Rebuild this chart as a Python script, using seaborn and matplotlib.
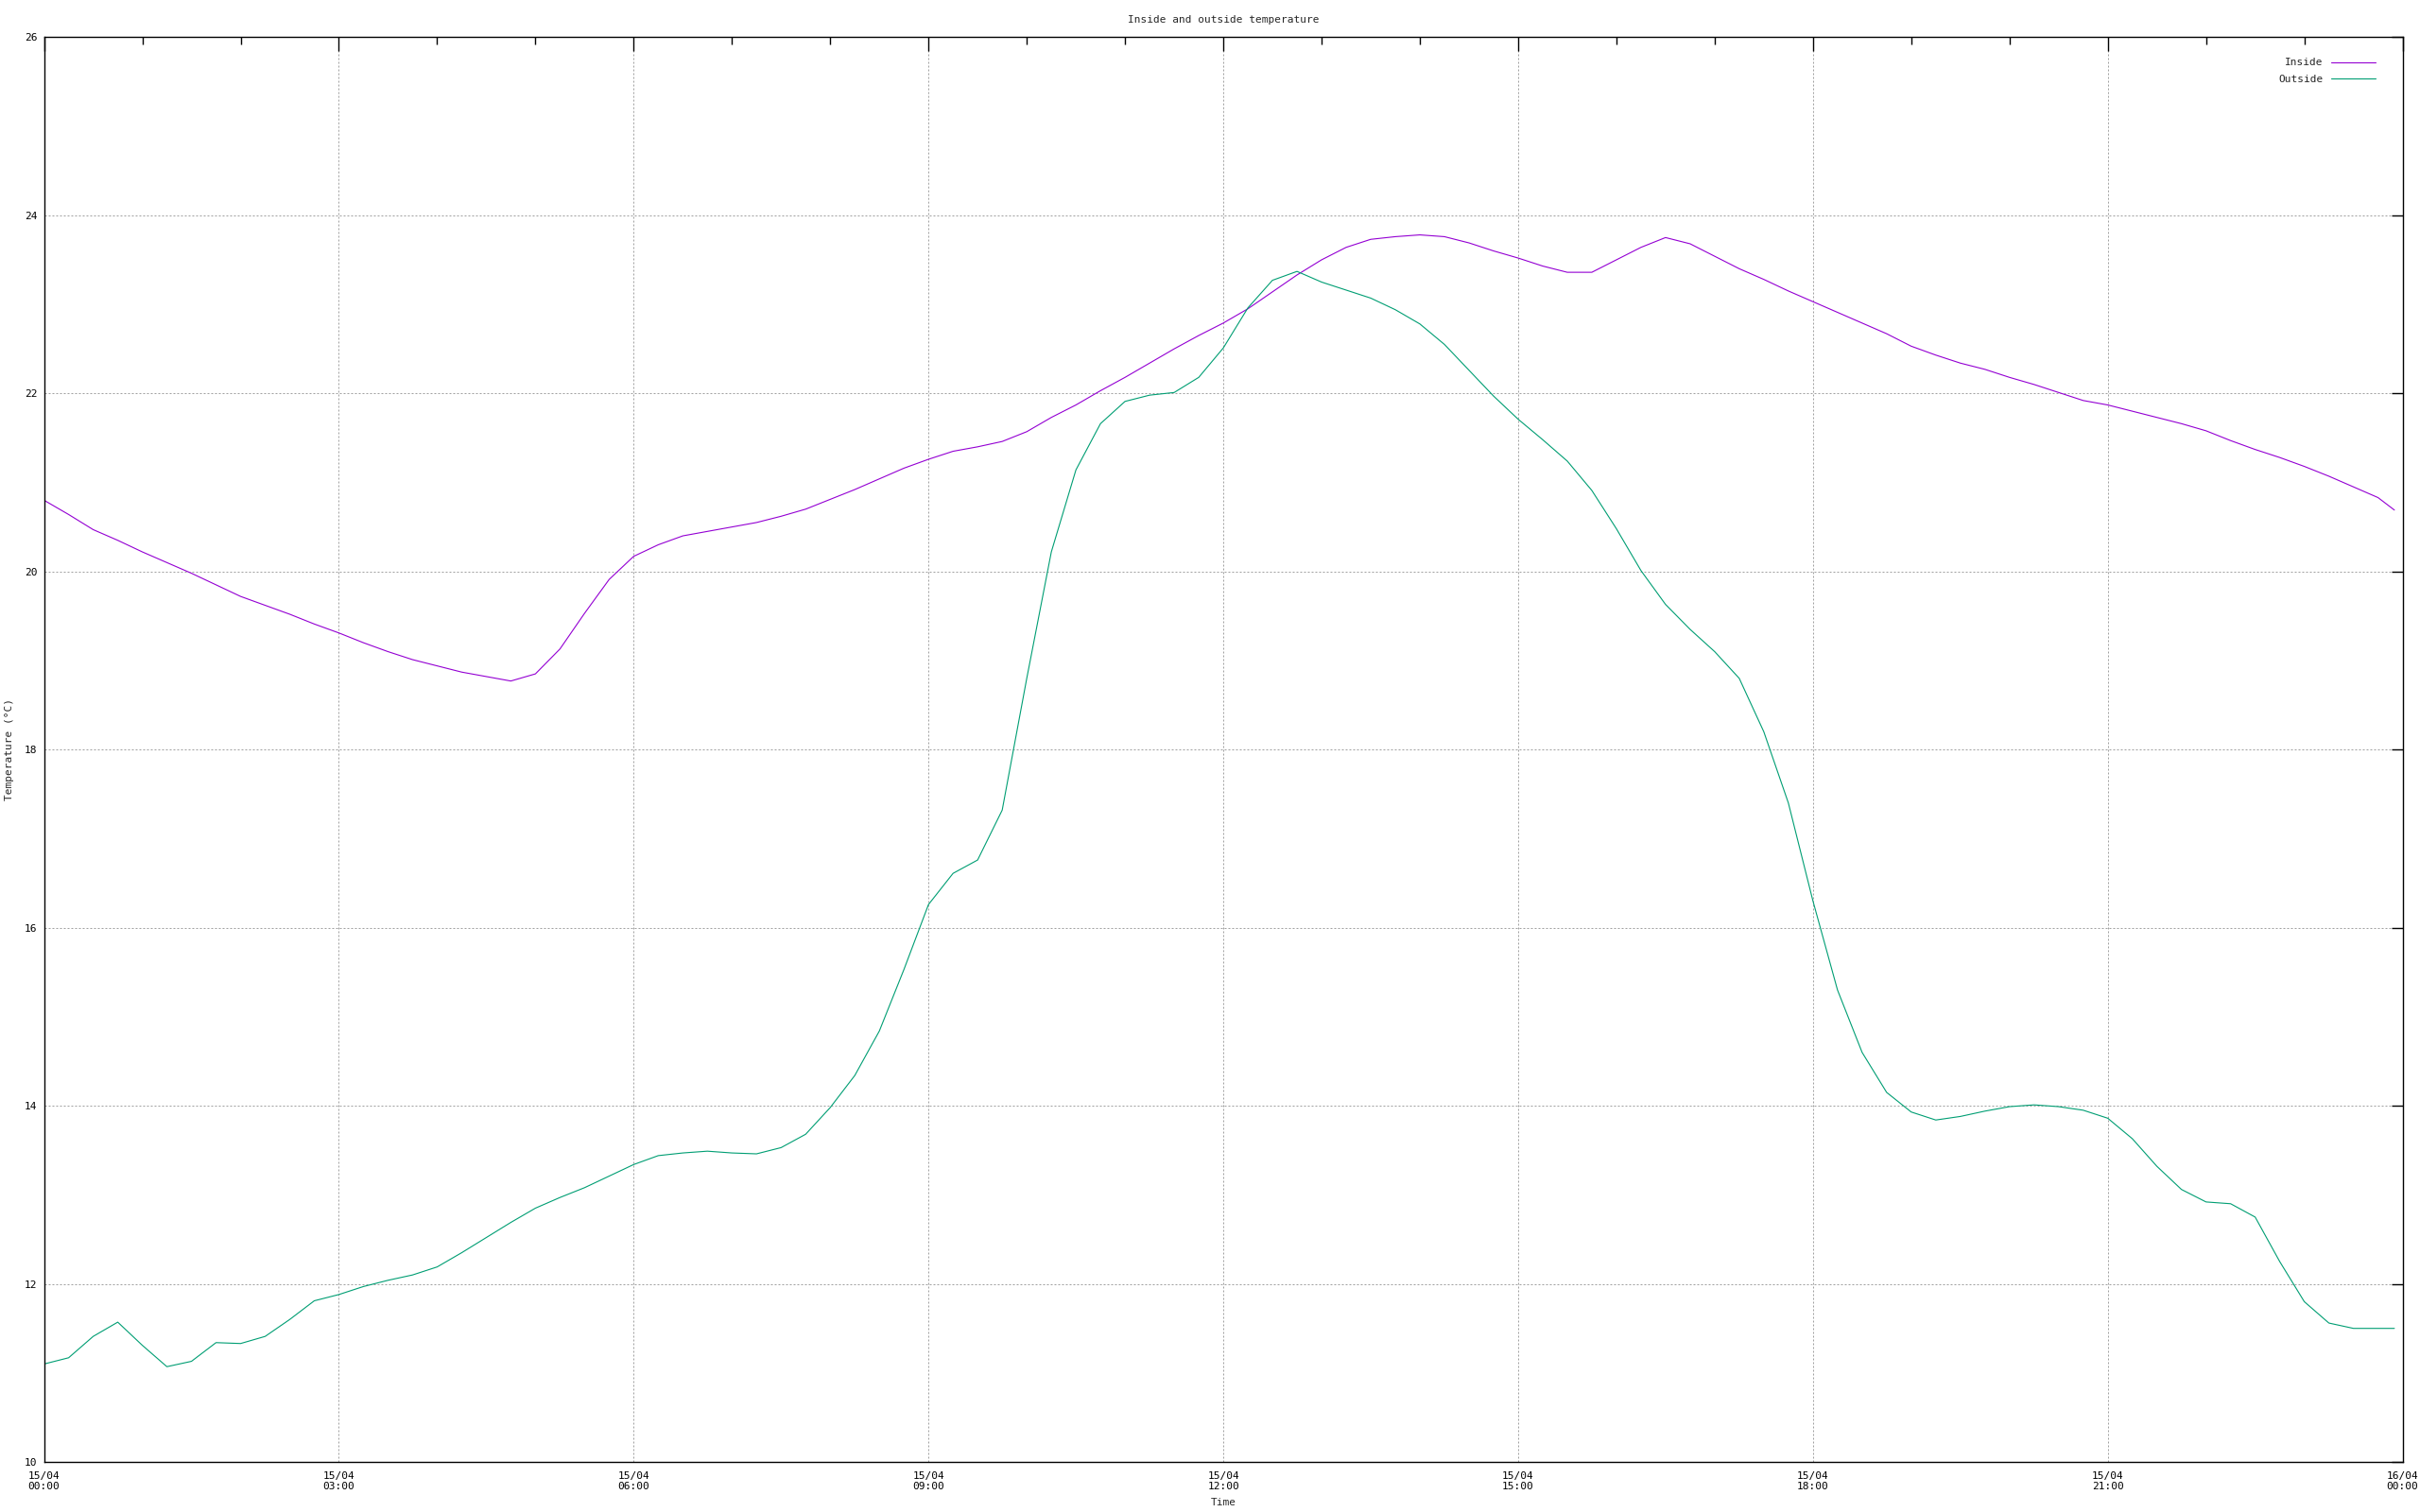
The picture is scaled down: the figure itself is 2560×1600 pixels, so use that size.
import pandas as pd
import matplotlib
matplotlib.use("Agg")
import matplotlib.pyplot as plt
import matplotlib.dates as mdates
import seaborn as sns

# readings every 15 minutes from 15/04 00:00, last one at 23:55
inside = [20.80, 20.64, 20.47, 20.35, 20.22, 20.10, 19.98, 19.85,
          19.72, 19.62, 19.52, 19.41, 19.31, 19.20, 19.10, 19.01,
          18.94, 18.87, 18.82, 18.77, 18.85, 19.13, 19.53, 19.91,
          20.17, 20.30, 20.40, 20.45, 20.50, 20.55, 20.62, 20.70,
          20.81, 20.92, 21.04, 21.16, 21.26, 21.35, 21.40, 21.46,
          21.57, 21.73, 21.87, 22.03, 22.18, 22.34, 22.50, 22.65,
          22.79, 22.95, 23.14, 23.33, 23.50, 23.64, 23.73, 23.76,
          23.78, 23.76, 23.69, 23.60, 23.52, 23.43, 23.36, 23.36,
          23.50, 23.64, 23.75, 23.68, 23.54, 23.40, 23.28, 23.15,
          23.03, 22.91, 22.79, 22.67, 22.53, 22.43, 22.34, 22.27,
          22.18, 22.10, 22.01, 21.92, 21.87, 21.80, 21.73, 21.66,
          21.58, 21.47, 21.37, 21.28, 21.18, 21.07, 20.95, 20.83,
          20.69]
outside = [11.10, 11.17, 11.41, 11.57, 11.31, 11.07, 11.13, 11.34,
           11.33, 11.41, 11.60, 11.81, 11.88, 11.97, 12.04, 12.10,
           12.19, 12.35, 12.52, 12.69, 12.85, 12.97, 13.08, 13.21,
           13.34, 13.44, 13.47, 13.49, 13.47, 13.46, 13.53, 13.68,
           13.98, 14.34, 14.84, 15.53, 16.26, 16.61, 16.76, 17.32,
           18.80, 20.22, 21.14, 21.66, 21.91, 21.98, 22.01, 22.18,
           22.51, 22.96, 23.27, 23.37, 23.25, 23.16, 23.07, 22.94,
           22.78, 22.55, 22.26, 21.97, 21.71, 21.48, 21.24, 20.91,
           20.48, 20.01, 19.63, 19.35, 19.10, 18.80, 18.20, 17.40,
           16.30, 15.30, 14.60, 14.15, 13.93, 13.84, 13.88, 13.94,
           13.99, 14.01, 13.99, 13.95, 13.86, 13.63, 13.32, 13.06,
           12.92, 12.90, 12.75, 12.25, 11.80, 11.56, 11.50, 11.50,
           11.50]
times = list(pd.date_range("2023-04-15 00:00", periods=96, freq="15min")) + [pd.Timestamp("2023-04-15 23:55")]

df = pd.DataFrame({"Time": times * 2,
                   "Temperature": inside + outside,
                   "Series": ["Inside"] * len(times) + ["Outside"] * len(times)})

sns.set_style("white")
plt.rcParams["font.family"] = ["DejaVu Sans Mono", "DejaVu Sans"]
plt.rcParams["font.size"] = 8

fig = plt.figure(figsize=(25.6, 16), dpi=100)
ax = fig.add_axes([0.0182, 0.0331, 0.9746, 0.9423])

sns.lineplot(data=df, x="Time", y="Temperature", hue="Series",
             palette={"Inside": "#9400d3", "Outside": "#009e73"},
             linewidth=0.8, ax=ax)

ax.set_xlim(pd.Timestamp("2023-04-15 00:00"), pd.Timestamp("2023-04-16 00:00"))
ax.set_ylim(10, 26)
ax.set_yticks(range(10, 27, 2))
ax.xaxis.set_major_locator(mdates.HourLocator(byhour=range(0, 24, 3)))
ax.xaxis.set_minor_locator(mdates.HourLocator())
ax.xaxis.set_major_formatter(mdates.DateFormatter("%d/%m\n%H:%M"))

for s in ax.spines.values():
    s.set_color("black")
    s.set_linewidth(1.0)

ax.tick_params(axis="both", which="both", direction="in", top=True, right=True,
               colors="black", labelsize=8)
ax.tick_params(axis="x", which="major", length=11, width=1.0, pad=7)
ax.tick_params(axis="x", which="minor", length=6, width=1.0)
ax.tick_params(axis="y", which="major", length=9, width=1.0, pad=5)

ax.grid(True, which="major", color="#a0a0a0", linestyle=(0, (2, 2)), linewidth=0.72)

ax.set_title("Inside and outside temperature", fontsize=8, pad=11)
ax.set_xlabel("Time", fontsize=8, labelpad=5)
ax.set_ylabel("Temperature (°C)", fontsize=8, labelpad=8)

handles, labels = ax.get_legend_handles_labels()
ax.legend(handles, labels, loc="upper right", frameon=False, markerfirst=False,
          fontsize=8, handlelength=4.2, handletextpad=0.8, labelspacing=0.7,
          bbox_to_anchor=(0.9925, 0.992))

fig.savefig("out.png", dpi=100)
